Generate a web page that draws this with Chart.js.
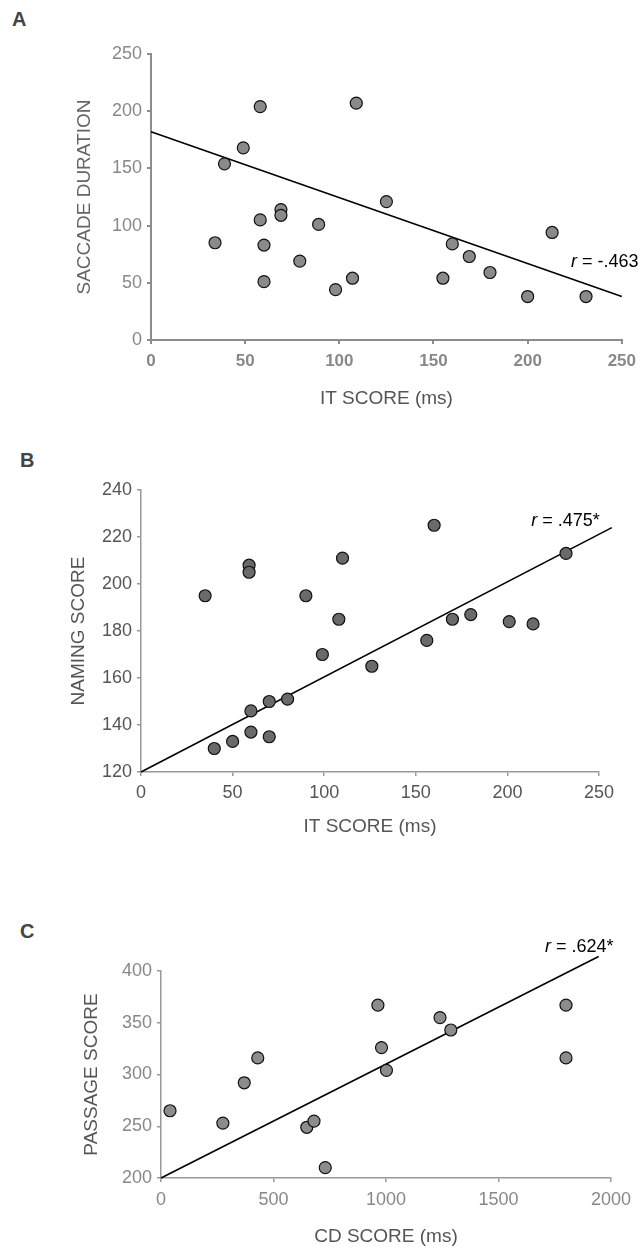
<!DOCTYPE html>
<html>
<head>
<meta charset="utf-8">
<script src="https://cdn.jsdelivr.net/npm/chart.js@4.4.1/dist/chart.umd.min.js"></script>
<style>
    html, body { margin: 0; padding: 0; background: #fff; overflow: hidden; }
    body { width: 643px; height: 1247px; position: relative; font-family: 'Liberation Sans', Arial, sans-serif; }
    canvas { position: absolute; left: 0; }
    .panel { position: absolute; font-size: 20px; font-weight: bold; color: #444; line-height: 20px; }
</style>
</head>
<body>
<div class="panel" style="left:12px; top:9px;">A</div>
<div class="panel" style="left:20px; top:450px;">B</div>
<div class="panel" style="left:20px; top:921px;">C</div>
<canvas id="chartA" width="643" height="420" style="top:0px;"></canvas>
<canvas id="chartB" width="643" height="420" style="top:420px;"></canvas>
<canvas id="chartC" width="643" height="410" style="top:840px;"></canvas>
<script>
// panel A: IT score vs saccade duration
var itScoreA = [34, 39, 49, 58, 58, 60, 60, 69, 69, 79, 89, 98, 107, 109, 125, 155, 160, 169, 180, 200, 213, 231];
var saccadeA = [85, 154, 168, 204, 105, 83, 51, 114, 109, 69, 101, 44, 54, 207, 121, 54, 84, 73, 59, 38, 94, 38];
var fitXA = [0, 250];
var fitYA = [182, 38];

// panel B: IT score vs naming score
var itScoreB = [35, 40, 50, 59, 59, 60, 60, 70, 70, 80, 90, 99, 108, 110, 126, 156, 160, 170, 180, 201, 214, 232];
var namingB = [195, 130, 133, 208, 205, 146, 137, 150, 135, 151, 195, 170, 185, 211, 165, 176, 225, 185, 187, 184, 183, 213];
var fitXB = [0, 257];
var fitYB = [120, 224];

// panel C: CD score vs passage score
var cdScoreC = [40, 275, 370, 430, 648, 680, 730, 964, 980, 1002, 1240, 1288, 1800, 1800];
var passageC = [265, 253, 292, 316, 249, 255, 210, 367, 326, 304, 355, 343, 367, 316];
var fitXC = [0, 1945];
var fitYC = [200, 414];

var FONT = "'Liberation Sans', Arial, sans-serif";
Chart.defaults.font.family = FONT;

function toPoints(xs, ys) {
    return xs.map(function (x, i) { return { x: x, y: ys[i] }; });
}

function plainTick(value) {
    return String(value);
}

// draws the "r = ..." label, anchored in data units
var rLabel = {
    id: 'rLabel',
    afterDraw: function (chart, args, opts) {
        var ctx = chart.ctx;
        var x = chart.scales.x.getPixelForValue(opts.x);
        var y = chart.scales.y.getPixelForValue(opts.y);
        ctx.save();
        ctx.fillStyle = '#000';
        ctx.textAlign = 'left';
        ctx.textBaseline = 'middle';
        ctx.font = 'italic 18px ' + FONT;
        ctx.fillText('r', x, y);
        var w = ctx.measureText('r').width;
        ctx.font = '18px ' + FONT;
        ctx.fillText(' = ' + opts.text, x + w, y);
        ctx.restore();
    }
};

function makeChart(id, p) {
    var ctx = document.getElementById(id).getContext('2d');
    new Chart(ctx, {
        type: 'scatter',
        data: {
            datasets: [{
                data: toPoints(p.xs, p.ys),
                backgroundColor: p.dotColor,
                borderColor: '#111',
                borderWidth: 1.2,
                pointRadius: 6,
                pointHoverRadius: 6
            }, {
                type: 'line',
                data: toPoints(p.fitX, p.fitY),
                borderColor: '#000',
                borderWidth: 1.6,
                pointRadius: 0,
                fill: false,
                clip: false
            }]
        },
        options: {
            responsive: false,
            animation: false,
            events: [],
            layout: { padding: p.padding },
            scales: {
                x: {
                    type: 'linear',
                    min: p.xRange[0],
                    max: p.xRange[1],
                    afterFit: function (scale) { scale.height = p.xAxisHeight; },
                    ticks: {
                        stepSize: p.xRange[2],
                        color: p.tickColor,
                        padding: p.xTickPad,
                        callback: plainTick,
                        font: { size: p.xTickSize, weight: p.xTickWeight }
                    },
                    grid: { drawOnChartArea: false, drawTicks: true, tickLength: 4, color: p.axisColor, lineWidth: p.axisWidth },
                    border: { display: true, color: p.axisColor, width: p.axisWidth },
                    title: {
                        display: true,
                        text: p.xTitle,
                        color: '#555',
                        font: { size: 19 },
                        padding: { top: 0, bottom: p.xTitlePad }
                    }
                },
                y: {
                    type: 'linear',
                    min: p.yRange[0],
                    max: p.yRange[1],
                    afterFit: function (scale) { scale.width = 90; },
                    ticks: {
                        stepSize: p.yRange[2],
                        color: p.tickColor,
                        padding: 5,
                        callback: plainTick,
                        font: { size: 18 }
                    },
                    grid: { drawOnChartArea: false, drawTicks: true, tickLength: 4, color: p.axisColor, lineWidth: p.axisWidth },
                    border: { display: true, color: p.axisColor, width: p.axisWidth },
                    title: {
                        display: true,
                        text: p.yTitle,
                        color: p.yTitleColor,
                        font: { size: 19 },
                        padding: { top: p.yTitlePad, bottom: 0 }
                    }
                }
            },
            plugins: {
                legend: { display: false },
                tooltip: { enabled: false },
                rLabel: p.label
            }
        },
        plugins: [rLabel]
    });
}

makeChart('chartA', {
    xs: itScoreA, ys: saccadeA, fitX: fitXA, fitY: fitYA,
    xRange: [0, 250, 50], yRange: [0, 250, 50],
    xTitle: 'IT SCORE (ms)', yTitle: 'SACCADE DURATION',
    dotColor: '#8a8a8a', tickColor: '#888', axisColor: '#8c8c8c', axisWidth: 2,
    yTitleColor: '#666', xTickWeight: 'bold', xTickSize: 17, xTickPad: 7,
    padding: { left: 61, right: 18, top: 54, bottom: 5 },
    xAxisHeight: 75, xTitlePad: 5, yTitlePad: 12,
    label: { x: 223, y: 68, text: '-.463' }
});

makeChart('chartB', {
    xs: itScoreB, ys: namingB, fitX: fitXB, fitY: fitYB,
    xRange: [0, 250, 50], yRange: [120, 240, 20],
    xTitle: 'IT SCORE (ms)', yTitle: 'NAMING SCORE',
    dotColor: '#6a6a6a', tickColor: '#555', axisColor: '#999', axisWidth: 1.5,
    yTitleColor: '#555', xTickWeight: 'normal', xTickSize: 18, xTickPad: 6,
    padding: { left: 51, right: 44, top: 70, bottom: 2 },
    xAxisHeight: 66, xTitlePad: 0, yTitlePad: 16,
    label: { x: 213, y: 227, text: '.475*' }
});

makeChart('chartC', {
    xs: cdScoreC, ys: passageC, fitX: fitXC, fitY: fitYC,
    xRange: [0, 2000, 500], yRange: [200, 400, 50],
    xTitle: 'CD SCORE (ms)', yTitle: 'PASSAGE SCORE',
    dotColor: '#8c8c8c', tickColor: '#888', axisColor: '#999', axisWidth: 1.5,
    yTitleColor: '#555', xTickWeight: 'normal', xTickSize: 18, xTickPad: 7,
    padding: { left: 71, right: 32, top: 131, bottom: 2 },
    xAxisHeight: 70, xTitlePad: 0, yTitlePad: 9,
    label: { x: 1707, y: 423, text: '.624*' }
});
</script>
</body>
</html>
